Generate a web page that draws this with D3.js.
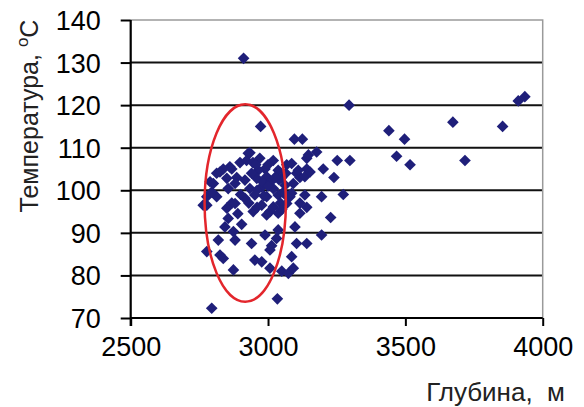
<!DOCTYPE html>
<html>
<head>
<meta charset="utf-8">
<script src="https://cdn.jsdelivr.net/npm/d3@7"></script>
<style>
	body { margin: 0; background: #fff; }
	svg { display: block; font-family: "Liberation Sans", Arial, sans-serif; }
</style>
</head>
<body>
<svg id="chart" width="584" height="407"></svg>
<script>
// data: depth (m) and temperature (°C)
var depth = [
	2911, 2973, 3096, 3125, 3295, 3440, 3497, 3468, 3517, 3673,
	3717, 3854, 3911, 3935, 3252, 3298, 3240, 3274, 2934, 2898,
	3177, 3141, 3019, 3068, 2861, 2837, 2813, 2789, 3141, 3116,
	3201, 3195, 2777, 2813, 2855, 2886, 2946, 3141, 3228, 3080,
	2868, 3007, 3116, 3116, 2855, 2904, 2843, 2874, 2819, 2880,
	2989, 3037, 3031, 3013, 3098, 3104, 3141, 3195, 2940, 2777,
	2825, 2837, 2952, 2977, 3086, 2874, 3007, 3050, 3074, 3092,
	3034, 2795, 3007, 2928, 2922, 2868, 2989, 2965, 2959, 2995,
	3037, 3086, 3104, 3134, 2916, 2880, 2850, 2934, 2977, 3019,
	3062, 3092, 2952, 2995, 3037, 3086, 3134, 2916, 2880, 2850,
	2977, 3019, 3068, 3037, 2995, 3147, 2764, 2777, 2795, 2825,
	2801, 3153, 3110, 2940, 2970, 3000, 3050, 2980, 3010, 3045,
	2960, 3055, 2945, 2960, 3000, 3040, 3065, 2955, 3025, 3070,
	2985, 3050, 2930, 2900, 2890
];
var temperature = [
	131, 115, 112, 112, 120, 114, 112, 108, 106, 116,
	107, 115, 121, 122, 107, 107, 103, 99, 108.8, 106.5,
	109, 107.5, 107, 106, 105.5, 105, 104, 102, 105, 103,
	105, 98.5, 96.5, 98.5, 100.4, 103, 95, 96, 93.6, 98.5,
	97, 95, 97, 94.6, 93.4, 92, 91.4, 90.3, 88.3, 88.3,
	89.5, 90.7, 88.7, 87, 91.4, 87.5, 87.5, 89.5, 87.5, 85.6,
	84.8, 84, 83.6, 83.2, 84.4, 81.3, 81.7, 81, 80.5, 81.7,
	74.5, 72.3, 86, 108.7, 107, 105, 105, 104.7, 102.8, 103.2,
	104.7, 106.3, 104, 103.2, 102.4, 101.6, 102.8, 100.4, 100.8, 100.4,
	101.2, 101.6, 98.9, 98.5, 98.9, 99.3, 98.9, 98.1, 96.9, 95.8,
	96.5, 96.1, 96.9, 94.6, 94.2, 108.3, 96.5, 98.5, 99.6, 104.3,
	101.6, 104.3, 104.7, 104, 107.5, 106, 103, 102, 102, 97,
	96, 99.5, 106.5, 100, 101, 102.5, 104, 106, 103, 98.5,
	98.7, 95.5, 97, 99, 94.5
];
var xTicks = [2500, 3000, 3500, 4000];
var yTicks = [70, 80, 90, 100, 110, 120, 130, 140];
// red ellipse marking the group (centre and radii in data units)
var groupMark = { cx: 2917, cy: 97, rx: 148, ry: 23.2 };

var colors = {
	marker: "#1f1f7a",
	grid: "#111",
	border: "#9a9a9a",
	ellipse: "#e3262c"
};

var svg = d3.select("#chart");
var x = d3.scaleLinear().domain([2500, 4000]).range([130.7, 542.7]);
var y = d3.scaleLinear().domain([70, 140]).range([318, 20]);

// grid lines
svg.append("g").selectAll("line")
	.data(yTicks.slice(1, -1))
	.join("line")
	.attr("x1", x(2500)).attr("x2", x(4000))
	.attr("y1", function(d) { return y(d); })
	.attr("y2", function(d) { return y(d); })
	.attr("stroke", colors.grid)
	.attr("stroke-width", 2);

// plot border, top and right
svg.append("path")
	.attr("d", "M" + x(2500) + "," + y(140) + "H" + x(4000) + "V" + y(70))
	.attr("fill", "none")
	.attr("stroke", colors.border)
	.attr("stroke-width", 1.5);

// axes
var xAxis = d3.axisBottom(x).tickValues(xTicks).tickSize(8).tickPadding(11).tickFormat(d3.format("d"));
var yAxis = d3.axisLeft(y).tickValues(yTicks).tickSize(10).tickPadding(20).tickFormat(d3.format("d"));

var gx = svg.append("g").attr("transform", "translate(0," + y(70) + ")").call(xAxis);
var gy = svg.append("g").attr("transform", "translate(" + x(2500) + ",0)").call(yAxis);

[gx, gy].forEach(function(g) {
	g.selectAll(".domain").attr("stroke", "#000").attr("stroke-width", 2.2);
	g.selectAll(".tick line").attr("stroke", "#000").attr("stroke-width", 2);
	g.selectAll(".tick text")
		.attr("fill", "#000")
		.style("font-size", "27px")
		.style("font-family", "'Liberation Sans', Arial, sans-serif");
});
gx.select(".domain").attr("d", "M" + x(2500) + ",0H" + x(4000));
gy.select(".domain").attr("d", "M0," + y(140) + "V" + (y(70) + 8));
gy.selectAll(".tick text").attr("dy", "0.35em");

// markers
var diamond = d3.symbol().type(d3.symbolSquare).size(68);
svg.append("g").selectAll("path")
	.data(depth.map(function(d, i) { return [d, temperature[i]]; }))
	.join("path")
	.attr("d", diamond)
	.attr("transform", function(d) {
		return "translate(" + x(d[0]) + "," + y(d[1]) + ") rotate(45)";
	})
	.attr("fill", colors.marker);

// highlighted group
svg.append("ellipse")
	.attr("cx", x(groupMark.cx))
	.attr("cy", y(groupMark.cy))
	.attr("rx", x(groupMark.cx + groupMark.rx) - x(groupMark.cx))
	.attr("ry", y(groupMark.cy - groupMark.ry) - y(groupMark.cy))
	.attr("fill", "none")
	.attr("stroke", colors.ellipse)
	.attr("stroke-width", 2.5);

// axis titles
svg.append("text")
	.attr("x", 565).attr("y", 401)
	.attr("text-anchor", "end")
	.style("font-size", "26px")
	.style("white-space", "pre")
	.attr("fill", "#222")
	.text("Глубина,  м");

var yTitle = svg.append("text")
	.attr("transform", "translate(38,116) rotate(-90)")
	.attr("text-anchor", "middle")
	.style("font-size", "25px")
	.attr("fill", "#222");
yTitle.append("tspan").text("Температура, ");
yTitle.append("tspan").attr("dy", -10).style("font-size", "17px").text("o");
yTitle.append("tspan").attr("dy", 10).text("C");
</script>
</body>
</html>
